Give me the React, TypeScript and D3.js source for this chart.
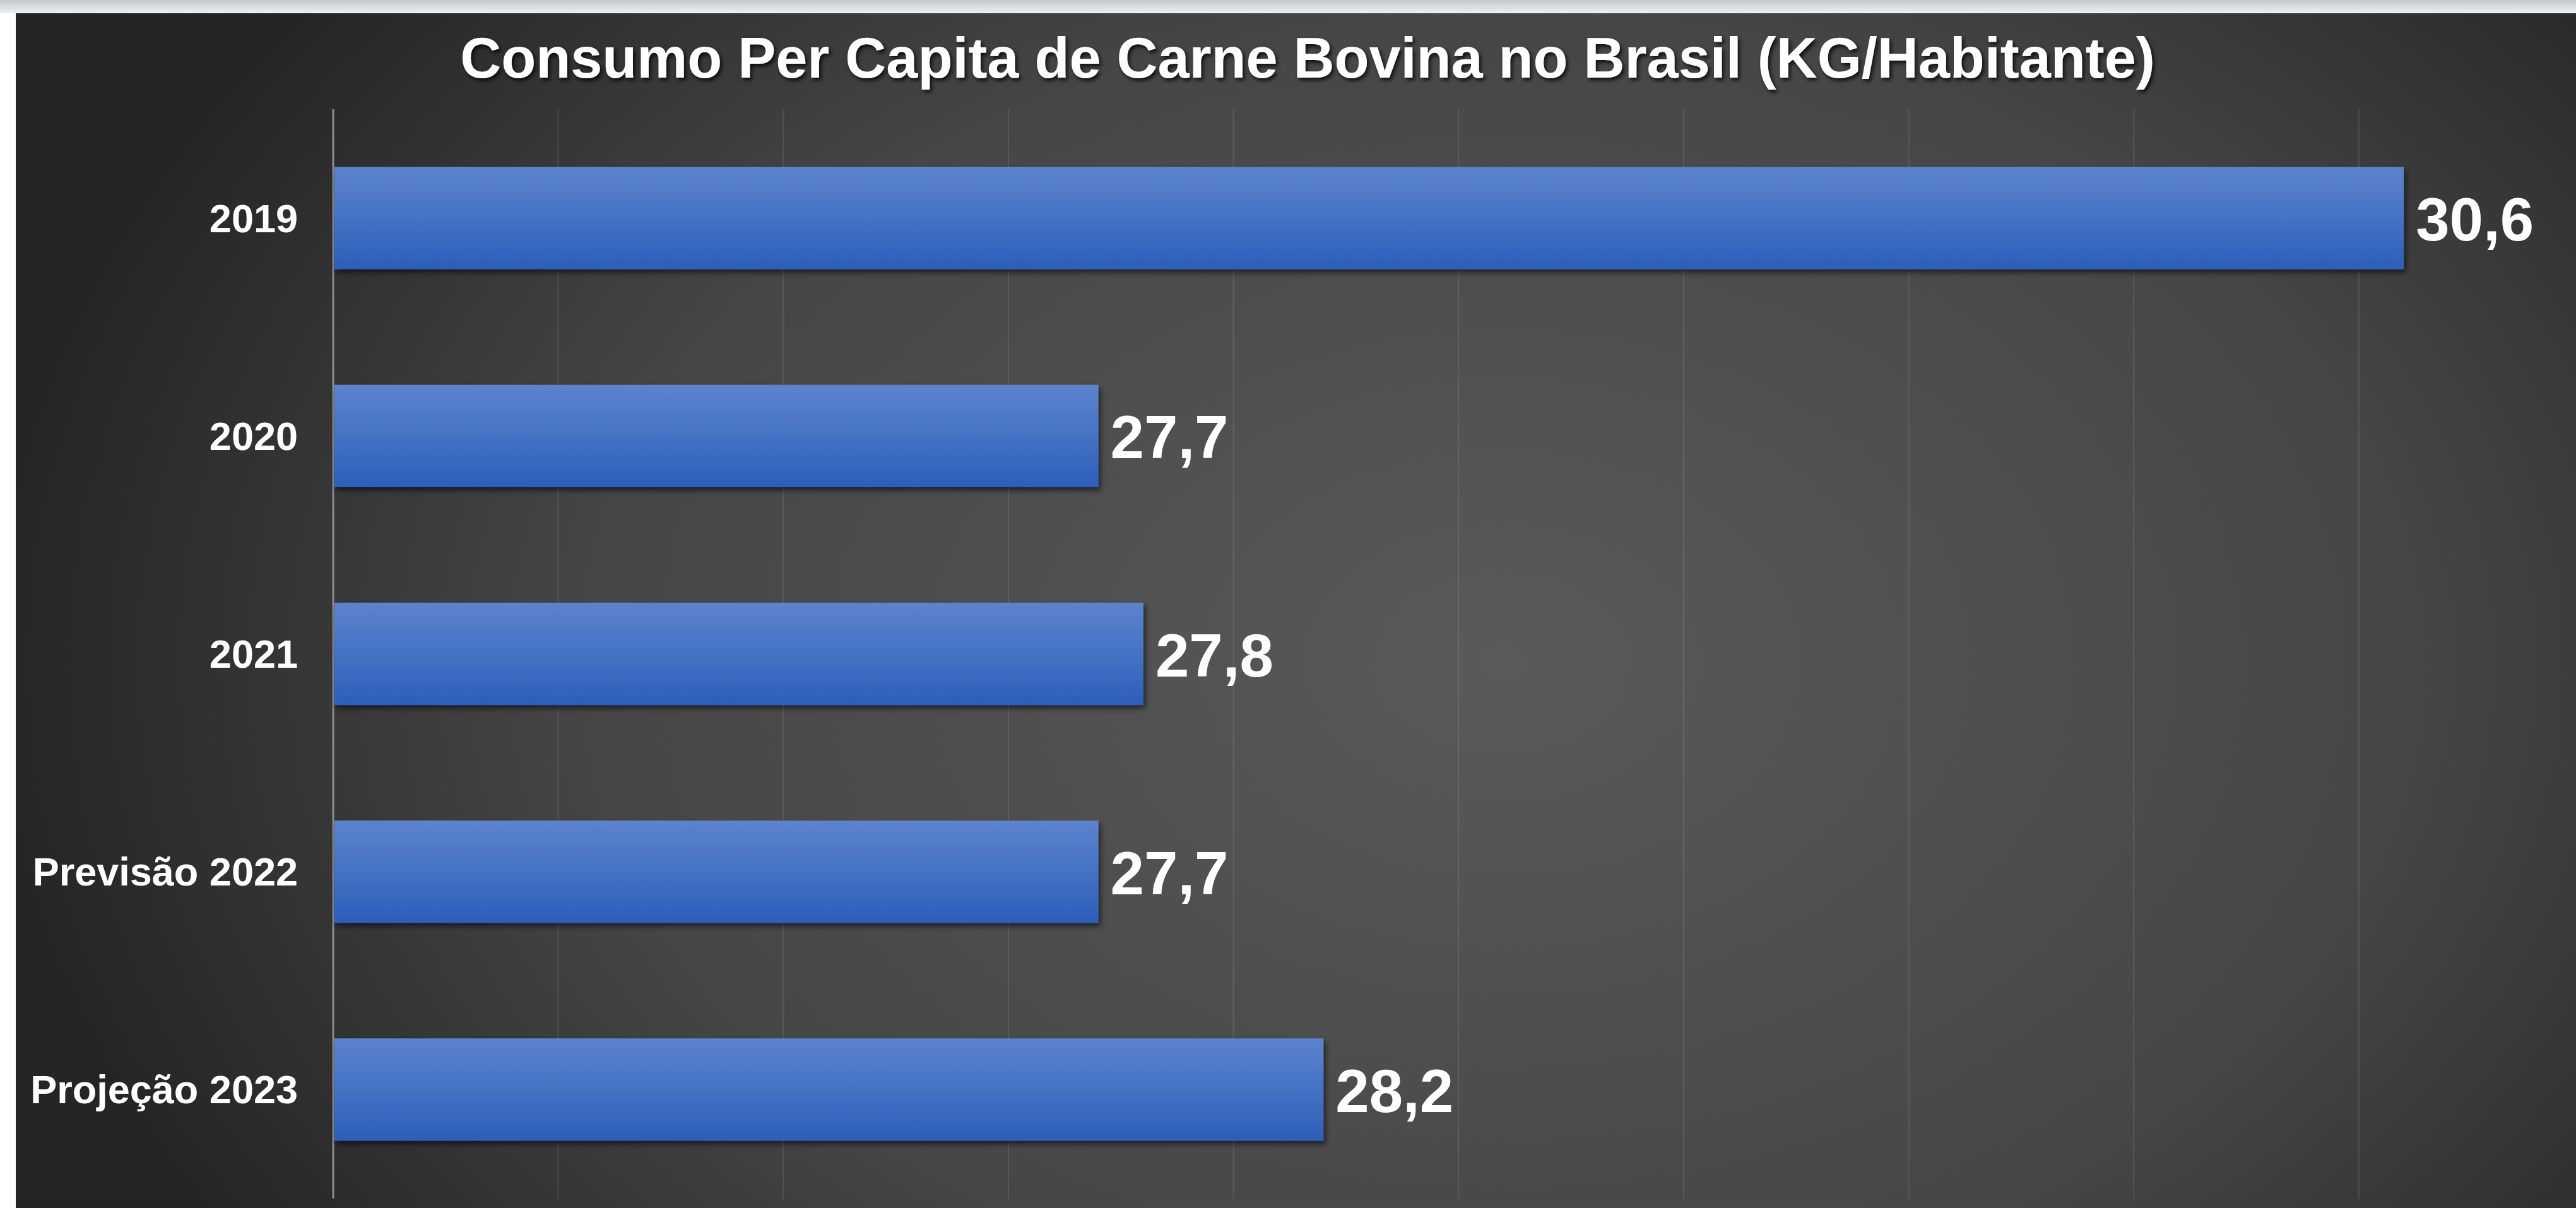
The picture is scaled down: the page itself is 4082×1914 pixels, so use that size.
import React, { useEffect, useRef } from "react";
import * as d3 from "d3";

// chart data
const categories = ["2019", "2020", "2021", "Previsão 2022", "Projeção 2023"];
const consumo = [30.6, 27.7, 27.8, 27.7, 28.2];
const gridTicks = [26.5, 27, 27.5, 28, 28.5, 29, 29.5, 30, 30.5, 31];
const title = "Consumo Per Capita de Carne Bovina no Brasil (KG/Habitante)";

const W = 4082;
const H = 1914;

const fmt = (v: number) => v.toFixed(1).replace(".", ",");

const App = () => {
  const ref = useRef<SVGSVGElement | null>(null);

  useEffect(() => {
    if (!ref.current) return;
    const svg = d3.select(ref.current);
    svg.selectAll("*").remove();

    const panel = { left: 25, top: 21 };
    const plot = { left: 528, top: 173, bottom: 1899 };

    const x = d3
      .scaleLinear()
      .domain([26, 31])
      .range([plot.left, plot.left + 5 * 713.3]);

    const y = d3
      .scaleBand()
      .domain(categories)
      .range([plot.top, plot.bottom])
      .paddingInner(0.53)
      .paddingOuter(0.265);

    const defs = svg.append("defs");

    // background: light strip on top, white on the left, dark radial panel
    const top = defs
      .append("linearGradient")
      .attr("id", "topStrip")
      .attr("x1", 0)
      .attr("y1", 0)
      .attr("x2", 0)
      .attr("y2", 1);
    top.append("stop").attr("offset", 0).attr("stop-color", "#c3c8cc");
    top.append("stop").attr("offset", 1).attr("stop-color", "#eef0f0");

    const bg = defs
      .append("radialGradient")
      .attr("id", "panelBg")
      .attr("gradientUnits", "userSpaceOnUse")
      .attr("cx", 0)
      .attr("cy", 0)
      .attr("r", 1)
      .attr("gradientTransform", "translate(2380,1050) scale(2400,1700)");
    bg.append("stop").attr("offset", 0).attr("stop-color", "#5a5a5a");
    bg.append("stop").attr("offset", 0.6).attr("stop-color", "#464646");
    bg.append("stop").attr("offset", 1).attr("stop-color", "#252525");

    const bar = defs
      .append("linearGradient")
      .attr("id", "barFill")
      .attr("x1", 0)
      .attr("y1", 0)
      .attr("x2", 0)
      .attr("y2", 1);
    bar.append("stop").attr("offset", 0).attr("stop-color", "#5d83cd");
    bar.append("stop").attr("offset", 0.5).attr("stop-color", "#4472c4");
    bar.append("stop").attr("offset", 1).attr("stop-color", "#2c5eba");

    const shadow = defs.append("filter").attr("id", "shadow").attr("x", "-5%").attr("y", "-20%").attr("width", "115%").attr("height", "150%");
    shadow
      .append("feDropShadow")
      .attr("dx", 3)
      .attr("dy", 5)
      .attr("stdDeviation", 5)
      .attr("flood-color", "#000")
      .attr("flood-opacity", 0.6);

    const textShadow = defs.append("filter").attr("id", "textShadow");
    textShadow
      .append("feDropShadow")
      .attr("dx", 3)
      .attr("dy", 4)
      .attr("stdDeviation", 3)
      .attr("flood-color", "#000")
      .attr("flood-opacity", 0.8);

    svg.append("rect").attr("width", W).attr("height", H).attr("fill", "#ffffff");
    svg.append("rect").attr("width", W).attr("height", panel.top).attr("fill", "url(#topStrip)");
    svg
      .append("rect")
      .attr("x", panel.left)
      .attr("y", panel.top)
      .attr("width", W - panel.left)
      .attr("height", H - panel.top)
      .attr("fill", "url(#panelBg)");

    // vertical gridlines
    svg
      .append("g")
      .selectAll("line")
      .data(gridTicks)
      .join("line")
      .attr("x1", (d) => x(d))
      .attr("x2", (d) => x(d))
      .attr("y1", plot.top)
      .attr("y2", plot.bottom)
      .attr("stroke", "#ffffff")
      .attr("stroke-opacity", 0.1)
      .attr("stroke-width", 2);

    // category axis
    svg
      .append("line")
      .attr("x1", x(26))
      .attr("x2", x(26))
      .attr("y1", plot.top)
      .attr("y2", plot.bottom)
      .attr("stroke", "#8c8c8c")
      .attr("stroke-width", 3);

    svg
      .append("g")
      .selectAll("text")
      .data(categories)
      .join("text")
      .attr("x", 472)
      .attr("y", (d) => (y(d) as number) + y.bandwidth() / 2)
      .attr("dy", "0.35em")
      .attr("text-anchor", "end")
      .attr("font-family", "'Liberation Sans', Arial, sans-serif")
      .attr("font-weight", "bold")
      .attr("font-size", 63)
      .attr("fill", "#ffffff")
      .text((d) => d);

    const rows = categories.map((c, i) => ({ cat: c, value: consumo[i] }));

    svg
      .append("g")
      .selectAll("rect")
      .data(rows)
      .join("rect")
      .attr("x", x(26) + 1.5)
      .attr("y", (d) => y(d.cat) as number)
      .attr("width", (d) => x(d.value) - x(26) - 1.5)
      .attr("height", y.bandwidth())
      .attr("fill", "url(#barFill)")
      .attr("filter", "url(#shadow)");

    svg
      .append("g")
      .selectAll("text")
      .data(rows)
      .join("text")
      .attr("x", (d) => x(d.value) + 19)
      .attr("y", (d) => (y(d.cat) as number) + y.bandwidth() / 2)
      .attr("dy", "0.37em")
      .attr("font-family", "'Liberation Sans', Arial, sans-serif")
      .attr("font-weight", "bold")
      .attr("font-size", 96)
      .attr("fill", "#ffffff")
      .text((d) => fmt(d.value));

    svg
      .append("text")
      .attr("x", 2072)
      .attr("y", 123)
      .attr("text-anchor", "middle")
      .attr("font-family", "'Liberation Sans', Arial, sans-serif")
      .attr("font-weight", "bold")
      .attr("font-size", 90)
      .attr("fill", "#ffffff")
      .attr("filter", "url(#textShadow)")
      .text(title);
  }, []);

  return (
    <div style={{ position: "absolute", left: 0, top: 0 }}>
      <svg ref={ref} width={W} height={H} style={{ display: "block" }}></svg>
    </div>
  );
};

export default App;
